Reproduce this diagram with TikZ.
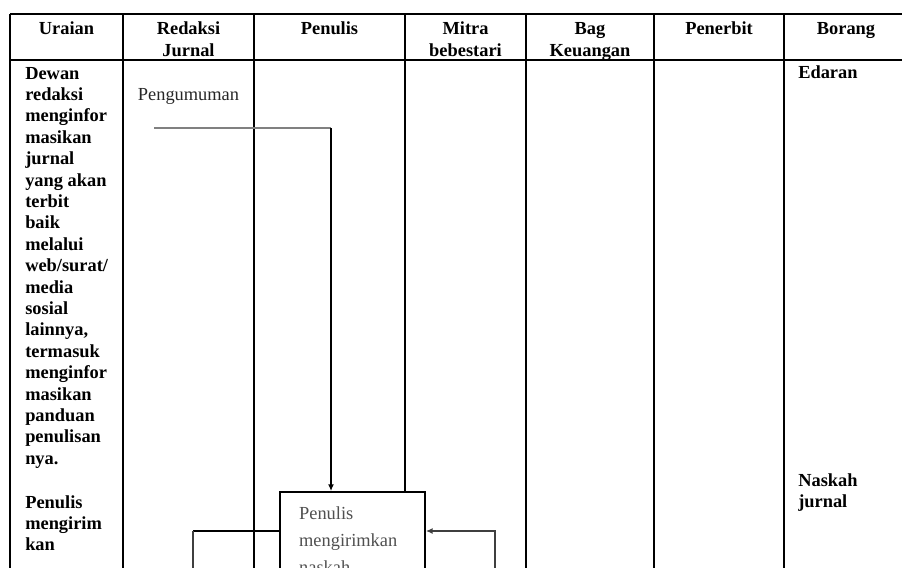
\documentclass[tikz,border=0pt]{standalone}
\usepackage{fontspec}
\setmainfont{Liberation Serif}
\usetikzlibrary{arrows.meta}

\definecolor{mGrey}{HTML}{808080}
\definecolor{mDarkGrey}{HTML}{3F3F3F}
\definecolor{mBoxText}{HTML}{505050}

\begin{document}
\begin{tikzpicture}[x=0.75pt,y=-0.75pt,
  grid/.style={line width=2.1pt},
  head/.style={anchor=base,inner sep=0,align=center,font=\fontsize{13.8}{16.05}\selectfont\bfseries},
  desc/.style={anchor=base west,inner sep=0,align=left,font=\fontsize{13.8}{16.05}\selectfont\bfseries},
  proc/.style={draw,line width=1.7pt,fill=white,anchor=north west,text width=80pt,inner xsep=14.25pt,inner ysep=11pt,align=left,text=mBoxText,font=\fontsize{13.8}{20.25}\selectfont},
  link/.style={line width=1.7pt},
  flow/.style={line width=1.7pt,-{Latex[length=5pt,width=4.5pt]}}]
\useasboundingbox (0,0) rectangle (902,567);

\foreach \x in {10,123,254,405,526,654,784}
  \draw[grid] (\x,14) -- (\x,590);
\draw[grid] (10,14) -- (920,14);
\draw[grid] (10,60) -- (920,60);

% base = last line
\node[head] (uraian) at (66.5,35) {Uraian};
\node[head] (redaksi) at (188.5,56.4) {Redaksi\\Jurnal};
\node[head] (penulis) at (329.5,35) {Penulis};
\node[head] (mitra) at (465.5,56.4) {Mitra\\bebestari};
\node[head] (keuangan) at (590,56.4) {Bag\\Keuangan};
\node[head] (penerbit) at (719,35) {Penerbit};
\node[head] (borang) at (846,35) {Borang};

\node[desc] (dewan) at (25,464.2) {Dewan\\redaksi\\menginfor\\masikan\\jurnal\\yang akan\\terbit\\baik\\melalui\\web/surat/\\media\\sosial\\lainnya,\\termasuk\\menginfor\\masikan\\panduan\\penulisan\\nya.};
\node[desc] (kirimdesc) at (25,550.8) {Penulis\\mengirim\\kan};
\node[desc] (edaran) at (798,79) {Edaran};
\node[desc] (naskah) at (798,507.4) {Naskah\\jurnal};

\node[anchor=base,inner sep=0,text=black!85,font=\fontsize{13.8}{16.05}\selectfont] (pengumuman) at (188.5,100) {Pengumuman};

\node[proc] (kirim) at (279,491) {Penulis\\mengirimkan\\naskah};

\coordinate (p0) at (154,128);
\coordinate (p1) at (331,128);
\draw[link,mGrey] (p0) -- (p1);
\draw[flow] (p1) -- (p1 |- kirim.north);

\coordinate (l0) at (193,531);
\coordinate (l1) at (193,590);
\draw[link] (kirim.west |- l0) -- (l0);
\draw[link,mDarkGrey] (l0) -- (l1);

\coordinate (r0) at (495,531);
\coordinate (r1) at (495,590);
\draw[flow,mDarkGrey] (r1) -- (r0) -- (kirim.east |- r0);
\end{tikzpicture}
\end{document}
